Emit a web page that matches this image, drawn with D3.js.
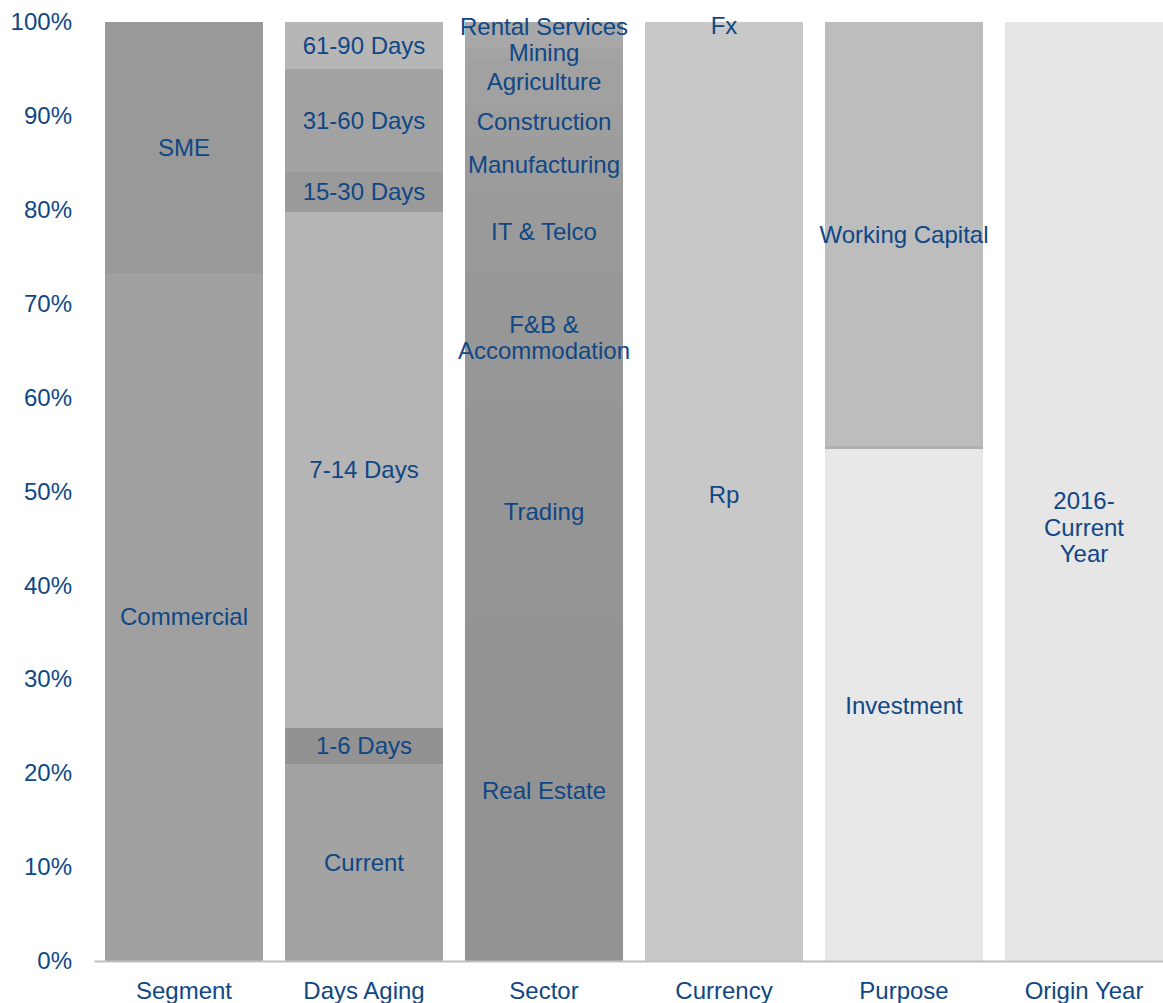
<!DOCTYPE html>
<html>
<head>
<meta charset="utf-8">
<script src="https://cdn.jsdelivr.net/npm/d3@7"></script>
<style>
    body { margin: 0; background: #fff; }
    text { font-family: "Liberation Sans", Arial, sans-serif; }
</style>
</head>
<body>
<div id="chart-area"></div>
<script>
// categories along the x axis
var categories = ["Segment", "Days Aging", "Sector", "Currency", "Purpose", "Origin Year"];

// stacked pieces of each column (percent, bottom to top)
var segmentNames = ["Commercial", "SME"];
var segmentValues = [73.3, 26.7];

var agingNames = ["Current", "1-6 Days", "7-14 Days", "15-30 Days", "31-60 Days", "61-90 Days"];
var agingValues = [21.0, 3.8, 55.0, 4.2, 11.0, 5.0];

var sectorNames = ["Real Estate", "Trading", "F&B &\nAccommodation", "IT & Telco", "Manufacturing",
    "Construction", "Agriculture", "Mining", "", "Rental Services"];
var sectorValues = [36.4, 23.0, 14.0, 8.6, 5.6, 3.6, 5.0, 1.0, 1.8, 1.0];

var currencyNames = ["Rp", "Fx"];
var currencyValues = [99.3, 0.7];

var purposeNames = ["Investment", "", "Working Capital"];
var purposeValues = [54.5, 0.3, 45.2];

var originNames = ["2016-\nCurrent\nYear", ""];
var originValues = [92.4, 7.6];

var yTicks = [0, 10, 20, 30, 40, 50, 60, 70, 80, 90, 100];

// fill colours, one list per column
var segmentColors = ["#a0a0a0", "#999999"];
var agingColors = ["#a3a3a3", "#929292", "#b5b5b5", "#9a9a9a", "#a2a2a2", "#b6b6b6"];
var sectorColors = ["#939393", "#959595", "#979797", "#9a9a9a", "#9c9c9c",
    "#9e9e9e", "#a1a1a1", "#a4a4a4", "#a8a8a8", "#a8a8a8"];
var currencyColors = ["#c8c8c8", "#c8c8c8"];
var purposeColors = ["#e8e8e8", "#b0b0b0", "#bdbdbd"];
var originColors = ["#e6e6e6", "#e6e6e6"];

var columns = [
    { names: segmentNames, values: segmentValues, colors: segmentColors },
    { names: agingNames, values: agingValues, colors: agingColors },
    { names: sectorNames, values: sectorValues, colors: sectorColors },
    { names: currencyNames, values: currencyValues, colors: currencyColors },
    { names: purposeNames, values: purposeValues, colors: purposeColors },
    { names: originNames, values: originValues, colors: originColors }
];

var width = 1163,
    height = 1003;
var textColor = "#0f4785";

var svg = d3.select("#chart-area")
    .append("svg")
    .attr("width", width)
    .attr("height", height);

var x = d3.scaleBand()
    .domain(categories)
    .range([94, 1174])
    .paddingInner(0.1222)
    .paddingOuter(0.0611);

var y = d3.scaleLinear()
    .domain([0, 100])
    .range([961, 22]);

// flatten into stacked pieces
var pieces = [];
columns.forEach(function (col, i) {
    var base = 0;
    col.values.forEach(function (v, j) {
        pieces.push({
            cat: categories[i],
            name: col.names[j],
            y0: base,
            y1: base + v,
            color: col.colors[j]
        });
        base += v;
    });
});

svg.selectAll("rect.piece")
    .data(pieces)
    .enter()
    .append("rect")
    .attr("class", "piece")
    .attr("x", function (d) { return x(d.cat); })
    .attr("y", function (d) { return y(d.y1); })
    .attr("width", x.bandwidth())
    .attr("height", function (d) { return y(d.y0) - y(d.y1); })
    .attr("fill", function (d) { return d.color; })
    .attr("shape-rendering", "crispEdges");

// Y axis (labels only)
var yAxisCall = d3.axisLeft(y)
    .tickValues(yTicks)
    .tickSize(0)
    .tickPadding(0)
    .tickFormat(function (d) { return d + "%"; });
var yAxis = svg.append("g")
    .attr("class", "y axis")
    .attr("transform", "translate(72, 0)")
    .call(yAxisCall);
yAxis.select(".domain").remove();
yAxis.selectAll("text")
    .attr("fill", textColor)
    .attr("font-size", "24px")
    .attr("font-family", "Liberation Sans, Arial, sans-serif");

// X axis
var xAxisCall = d3.axisBottom(x).tickSize(0).tickPadding(0);
var xAxis = svg.append("g")
    .attr("class", "x axis")
    .attr("transform", "translate(0, 961)")
    .call(xAxisCall);
xAxis.select(".domain")
    .attr("stroke", "#bfbfbf")
    .attr("stroke-width", 2);
xAxis.selectAll("text")
    .attr("fill", textColor)
    .attr("font-size", "24px")
    .attr("font-family", "Liberation Sans, Arial, sans-serif")
    .attr("dy", "0")
    .attr("y", 38);

// data labels centred in each piece
var lineHeight = 26.5;
var labels = svg.selectAll("text.piece-label")
    .data(pieces.filter(function (d) { return d.name !== ""; }))
    .enter()
    .append("text")
    .attr("class", "piece-label")
    .attr("text-anchor", "middle")
    .attr("font-size", "24px")
    .attr("fill", textColor)
    .attr("x", function (d) { return x(d.cat) + x.bandwidth() / 2; })
    .attr("y", function (d) { return y((d.y0 + d.y1) / 2); });

labels.each(function (d) {
    var lines = d.name.split("\n");
    var t = d3.select(this);
    lines.forEach(function (line, k) {
        t.append("tspan")
            .attr("x", x(d.cat) + x.bandwidth() / 2)
            .attr("dy", k === 0 ? (0.35 - (lines.length - 1) * lineHeight / 48) + "em" : lineHeight + "px")
            .text(line);
    });
});
</script>
</body>
</html>
